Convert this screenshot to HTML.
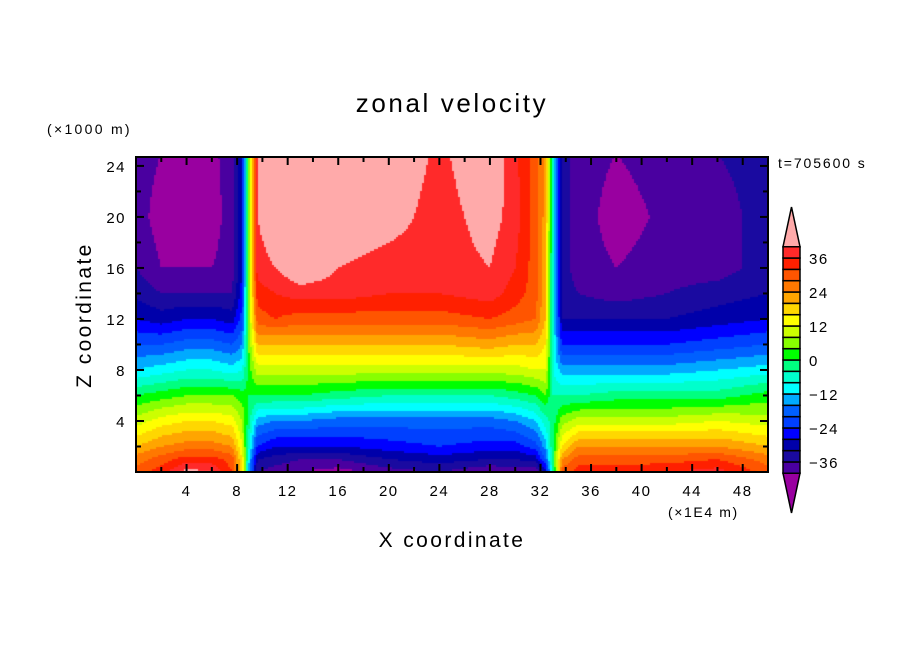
<!DOCTYPE html>
<html><head><meta charset="utf-8"><style>
html,body{margin:0;padding:0;background:#fff;}
#wrap{position:relative;width:904px;height:654px;font-family:"Liberation Sans",sans-serif;}
canvas{position:absolute;left:136px;top:157px;}
svg{position:absolute;left:0;top:0;}
</style></head><body>
<div id="wrap">
<canvas id="cv" width="632" height="315"></canvas>
<svg id="sv" width="904" height="654" font-family="Liberation Sans,sans-serif">
<text x="452" y="112" text-anchor="middle" font-size="26" letter-spacing="2.6">zonal velocity</text>
<text x="47" y="134" font-size="14" letter-spacing="2.3">(×1000 m)</text>
<text x="778" y="168" font-size="14" letter-spacing="1.9">t=705600 s</text>
<text x="668" y="517" font-size="14" letter-spacing="1.6">(×1E4 m)</text>
<text x="452" y="547" text-anchor="middle" font-size="21" letter-spacing="2.4">X coordinate</text>
<text x="0" y="0" transform="translate(91,315) rotate(-90)" text-anchor="middle" font-size="21" letter-spacing="2.4">Z coordinate</text>
</svg>
</div>
<script>
const xNodes=[0,2,4,6,7.6,8.4,8.9,9.6,11,13,16,20,24,28,30,31.6,32.4,33,33.7,35,38,42,46,50];
const zNodes=[0,1,2,4,6,8,10,12,14,16,20,25];
const velocity=[
[30,26,20,10,0,-12,-20,-28,-33,-36,-38,-38],
[34,30,24,14,2,-10,-20,-30,-36,-40,-42,-40],
[42,34,26,16,4,-8,-18,-28,-36,-40,-42,-42],
[40,34,26,16,4,-8,-18,-28,-36,-40,-42,-41],
[32,30,24,14,4,-10,-20,-30,-36,-38,-38,-38],
[18,16,12,8,2,-8,-16,-22,-26,-28,-28,-28],
[-12,-10,-6,-2,0,2,4,6,6,6,6,6],
[-36,-32,-24,-14,0,10,20,30,34,38,40,40],
[-38,-34,-28,-16,0,10,20,32,36,40,44,44],
[-40,-36,-28,-16,0,10,20,30,38,44,44,44],
[-42,-36,-28,-18,-2,10,20,30,38,40,44,44],
[-38,-32,-26,-18,-4,10,20,30,36,38,42,44],
[-36,-30,-24,-18,-4,10,20,30,36,38,38,39],
[-40,-32,-26,-18,-4,10,22,32,38,40,42,44],
[-38,-32,-26,-16,-2,10,20,30,34,36,38,37],
[-40,-30,-22,-12,0,12,20,28,30,30,30,30],
[-30,-20,-14,-6,4,12,16,20,20,20,22,22],
[-4,0,0,-2,-4,-8,-8,-8,-8,-8,-8,-8],
[30,24,16,6,-4,-14,-24,-32,-34,-34,-34,-34],
[34,30,24,10,-4,-14,-24,-32,-36,-38,-38,-38],
[34,30,24,10,-2,-14,-24,-32,-38,-40,-42,-40],
[36,30,24,10,-2,-14,-24,-32,-36,-38,-39,-38],
[38,32,24,12,-2,-12,-22,-30,-34,-38,-38,-36],
[30,26,20,10,2,-10,-20,-28,-32,-34,-34,-34]];
const levels=[-40,-36,-32,-28,-24,-20,-16,-12,-8,-4,0,4,8,12,16,20,24,28,32,36,40];
const bandColors=["#9900a0","#4a00a0","#1a0aa0","#0000aa","#0000ff","#0040ff","#0060ff","#00aaff","#00ffff","#00ffcc","#00ff80","#00ff00","#88ff00","#ccff00","#ffff00","#ffd700","#ffa500","#ff7800","#ff5500","#ff2000","#ff2a2a","#ffaaaa"];
const xTicks=[4,8,12,16,20,24,28,32,36,40,44,48];
const zTicks=[4,8,12,16,20,24];
const cbLabels=[36,24,12,0,-12,-24,-36];

const X0=136,X1=768,Y0=472,Y1=157,XMAX=50,ZMAX=24.7;
const sx=x=>X0+x*(X1-X0)/XMAX;
const sz=z=>Y0-z*(Y0-Y1)/ZMAX;
function seg(arr,v){for(let i=0;i<arr.length-1;i++){if(v<=arr[i+1])return i;}return arr.length-2;}
function val(x,z){
  const i=seg(xNodes,x),j=seg(zNodes,z);
  const tx=Math.min(1,Math.max(0,(x-xNodes[i])/(xNodes[i+1]-xNodes[i])));
  const tz=Math.min(1,Math.max(0,(z-zNodes[j])/(zNodes[j+1]-zNodes[j])));
  const a=velocity[i][j],b=velocity[i+1][j],c=velocity[i][j+1],d=velocity[i+1][j+1];
  return (a*(1-tx)+b*tx)*(1-tz)+(c*(1-tx)+d*tx)*tz;
}
function colorOf(v){let k=0;while(k<levels.length&&v>=levels[k])k++;return bandColors[k];}
const ctx=document.getElementById('cv').getContext('2d');
const W=632,H=315,st=2;
for(let py=0;py<H;py+=st){for(let px=0;px<W;px+=st){
  const x=(px+st/2)/W*XMAX, z=(H-py-st/2)/H*ZMAX;
  ctx.fillStyle=colorOf(val(x,z));ctx.fillRect(px,py,st,st);
}}
const NS="http://www.w3.org/2000/svg",sv=document.getElementById('sv');
function mk(t,at){const e=document.createElementNS(NS,t);for(const k in at)e.setAttribute(k,at[k]);sv.appendChild(e);return e;}
const fr=mk('rect',{x:X0,y:Y1,width:X1-X0,height:Y0-Y1,fill:'none',stroke:'#000','stroke-width':2});


for(let x=2;x<XMAX;x+=2){const L=(x%4===0)?8:5;
  const t1=mk('line',{x1:sx(x),x2:sx(x),y1:Y0,y2:Y0-L,stroke:'#000','stroke-width':2});
  
  
  const t2=mk('line',{x1:sx(x),x2:sx(x),y1:Y1,y2:Y1+L,stroke:'#000','stroke-width':2});
  
  }
for(let z=2;z<ZMAX;z+=2){const L=(z%4===0)?8:5;
  const t1=mk('line',{x1:X0,x2:X0+L,y1:sz(z),y2:sz(z),stroke:'#000','stroke-width':2});
  
  
  const t2=mk('line',{x1:X1,x2:X1-L,y1:sz(z),y2:sz(z),stroke:'#000','stroke-width':2});
  
  }
xTicks.forEach(v=>{const t=mk('text',{x:sx(v),y:Y0+24,'text-anchor':'middle','font-size':15,'letter-spacing':1.5});t.textContent=v;
  
  });
zTicks.forEach(v=>{const t=mk('text',{x:X0-10,y:sz(v)+6,'text-anchor':'end','font-size':15,'letter-spacing':1.5});t.textContent=v;
  
  });
const CX=783,CW=17,cbTop=246.7,cbBot=473.3;
const cy=v=>cbBot-(v+40)/80*(cbBot-cbTop);
for(let k=0;k<levels.length-1;k++){
  const r=mk('rect',{x:CX,y:cy(levels[k+1]),width:CW,height:cy(levels[k])-cy(levels[k+1]),fill:bandColors[k+1],stroke:'#000','stroke-width':1.5});
  
  
}
const tu=mk('polygon',{points:`${CX},${cbTop} ${CX+CW},${cbTop} ${CX+CW/2},207`,fill:bandColors[21],stroke:'#000','stroke-width':1.5});


const td=mk('polygon',{points:`${CX},${cbBot} ${CX+CW},${cbBot} ${CX+CW/2},513`,fill:bandColors[0],stroke:'#000','stroke-width':1.5});


cbLabels.forEach(v=>{const t=mk('text',{x:809,y:cy(v)+6,'font-size':15,'letter-spacing':1.5});t.textContent=(v<0?'\u2212'+(-v):v);
  
  });
</script>
</body></html>
